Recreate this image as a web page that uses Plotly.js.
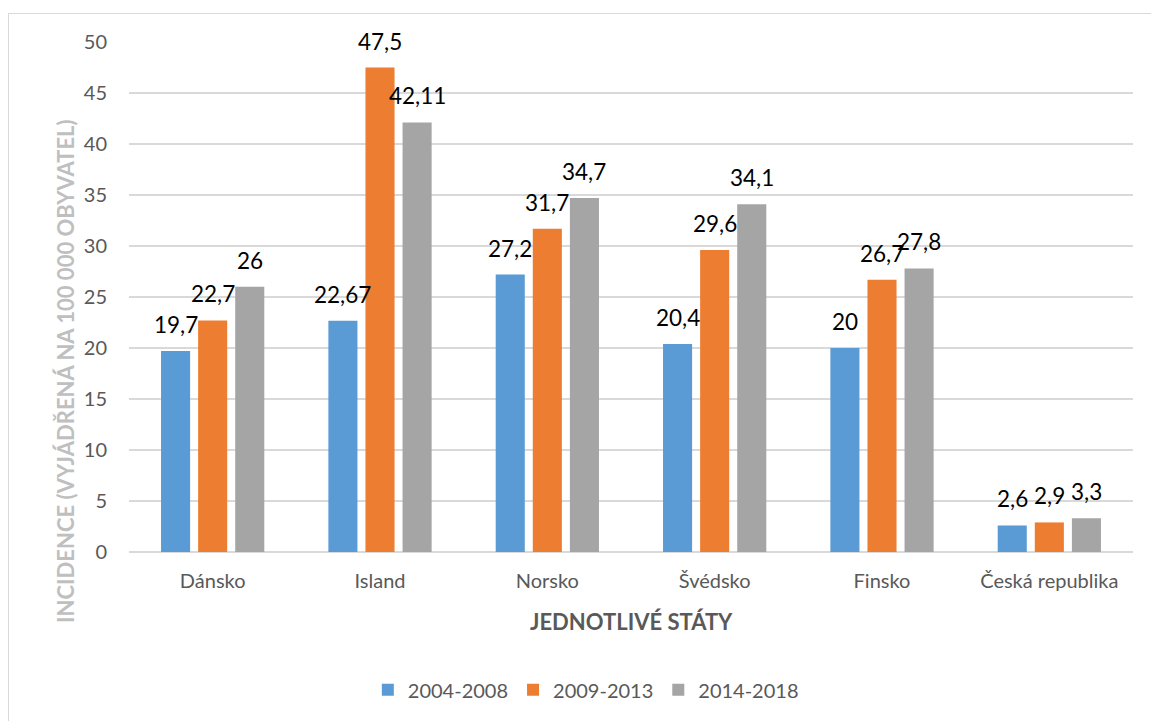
<!DOCTYPE html>
<html>
<head>
<meta charset="utf-8">
<script src="https://cdn.plot.ly/plotly-3.0.1.min.js"></script>
<style>
html,body{margin:0;padding:0;background:#fff;}
#chart{width:1151px;height:721px;position:relative;}
#frame{position:absolute;left:8px;top:13px;width:1160px;height:740px;border:1.5px solid #D9D9D9;pointer-events:none;box-sizing:border-box;}
</style>
</head>
<body>
<div id="wrap" style="position:relative;width:1151px;height:721px;overflow:hidden;">
<div id="chart"></div>
<div id="frame"></div>
</div>
<script>
const categories = ["Dánsko", "Island", "Norsko", "Švédsko", "Finsko", "Česká republika"];
const seriesNames = ["2004-2008", "2009-2013", "2014-2018"];
const s2004_2008 = [19.7, 22.67, 27.2, 20.4, 20, 2.6];
const s2009_2013 = [22.7, 47.5, 31.7, 29.6, 26.7, 2.9];
const s2014_2018 = [26, 42.11, 34.7, 34.1, 27.8, 3.3];
const labels2004 = ["19,7", "22,67", "27,2", "20,4", "20", "2,6"];
const labels2009 = ["22,7", "47,5", "31,7", "29,6", "26,7", "2,9"];
const labels2014 = ["26", "42,11", "34,7", "34,1", "27,8", "3,3"];
const yTicks = [0, 5, 10, 15, 20, 25, 30, 35, 40, 45, 50];

const colors = ["#5B9BD5", "#ED7D31", "#A5A5A5"];
const FONT = "Lato, 'Open Sans', sans-serif";
const vals = [s2004_2008, s2009_2013, s2014_2018];
const labs = [labels2004, labels2009, labels2014];

const W = 1151, H = 721, ML = 129, MR = 18, MT = 42, MB = 169;
const BARGAP = 0.335, GROUPGAP = 0.216;
const catPx = (W - ML - MR) / categories.length;
const slotPx = catPx * (1 - BARGAP) / vals.length;

const traces = vals.map((v, i) => ({
  type: "bar",
  name: seriesNames[i],
  x: categories,
  y: v,
  marker: {color: colors[i]},
  hoverinfo: "none"
}));

const labelAnns = [];
vals.forEach((v, i) => {
  v.forEach((val, k) => {
    labelAnns.push({
      xref: "x", yref: "y", x: categories[k], y: val,
      text: labs[i][k], showarrow: false,
      xanchor: "center", yanchor: "bottom",
      xshift: (i - 1) * slotPx, yshift: 11,
      font: {family: FONT, size: 22.5, color: "#000000"}
    });
  });
});

const layout = {
  width: W, height: H,
  margin: {l: ML, r: MR, t: MT, b: MB},
  paper_bgcolor: "#ffffff",
  plot_bgcolor: "#ffffff",
  font: {family: FONT, color: "#595959"},
  barmode: "group",
  bargap: BARGAP,
  bargroupgap: GROUPGAP,
  showlegend: true,
  legend: {
    orientation: "h", x: 0.455, xanchor: "center", y: -0.27, yanchor: "middle",
    font: {family: FONT, size: 20, color: "#595959"},
    itemwidth: 30, traceorder: "normal"
  },
  xaxis: {
    type: "category",
    tickfont: {family: FONT, size: 20, color: "#595959"},
    showgrid: false, showline: false, ticks: "",
    ticklabelstandoff: 15
  },
  yaxis: {
    range: [0, 50],
    tickvals: yTicks,
    ticktext: yTicks.map(String),
    tickfont: {family: FONT, size: 20, color: "#595959"},
    showgrid: true, gridcolor: "#D9D9D9", gridwidth: 1.3,
    zeroline: true, zerolinecolor: "#D9D9D9", zerolinewidth: 1.3,
    showline: false, ticks: "",
    ticklabelstandoff: 21
  },
  annotations: labelAnns.concat([
    {text: "<b>JEDNOTLIVÉ STÁTY</b>", xref: "paper", yref: "paper", x: 0.5, y: -0.137,
     xanchor: "center", yanchor: "middle", showarrow: false,
     font: {family: FONT, size: 22, color: "#595959"}},
    {text: "<b>INCIDENCE (VYJÁDŘENÁ NA 100 000 OBYVATEL)</b>", xref: "paper", yref: "paper",
     x: -0.0627, y: 0.355, xanchor: "center", yanchor: "middle", textangle: -90, showarrow: false,
     font: {family: FONT, size: 22, color: "#BFBFBF"}}
  ])
};

Plotly.newPlot("chart", traces, layout, {displayModeBar: false, staticPlot: true});
</script>
</body>
</html>
